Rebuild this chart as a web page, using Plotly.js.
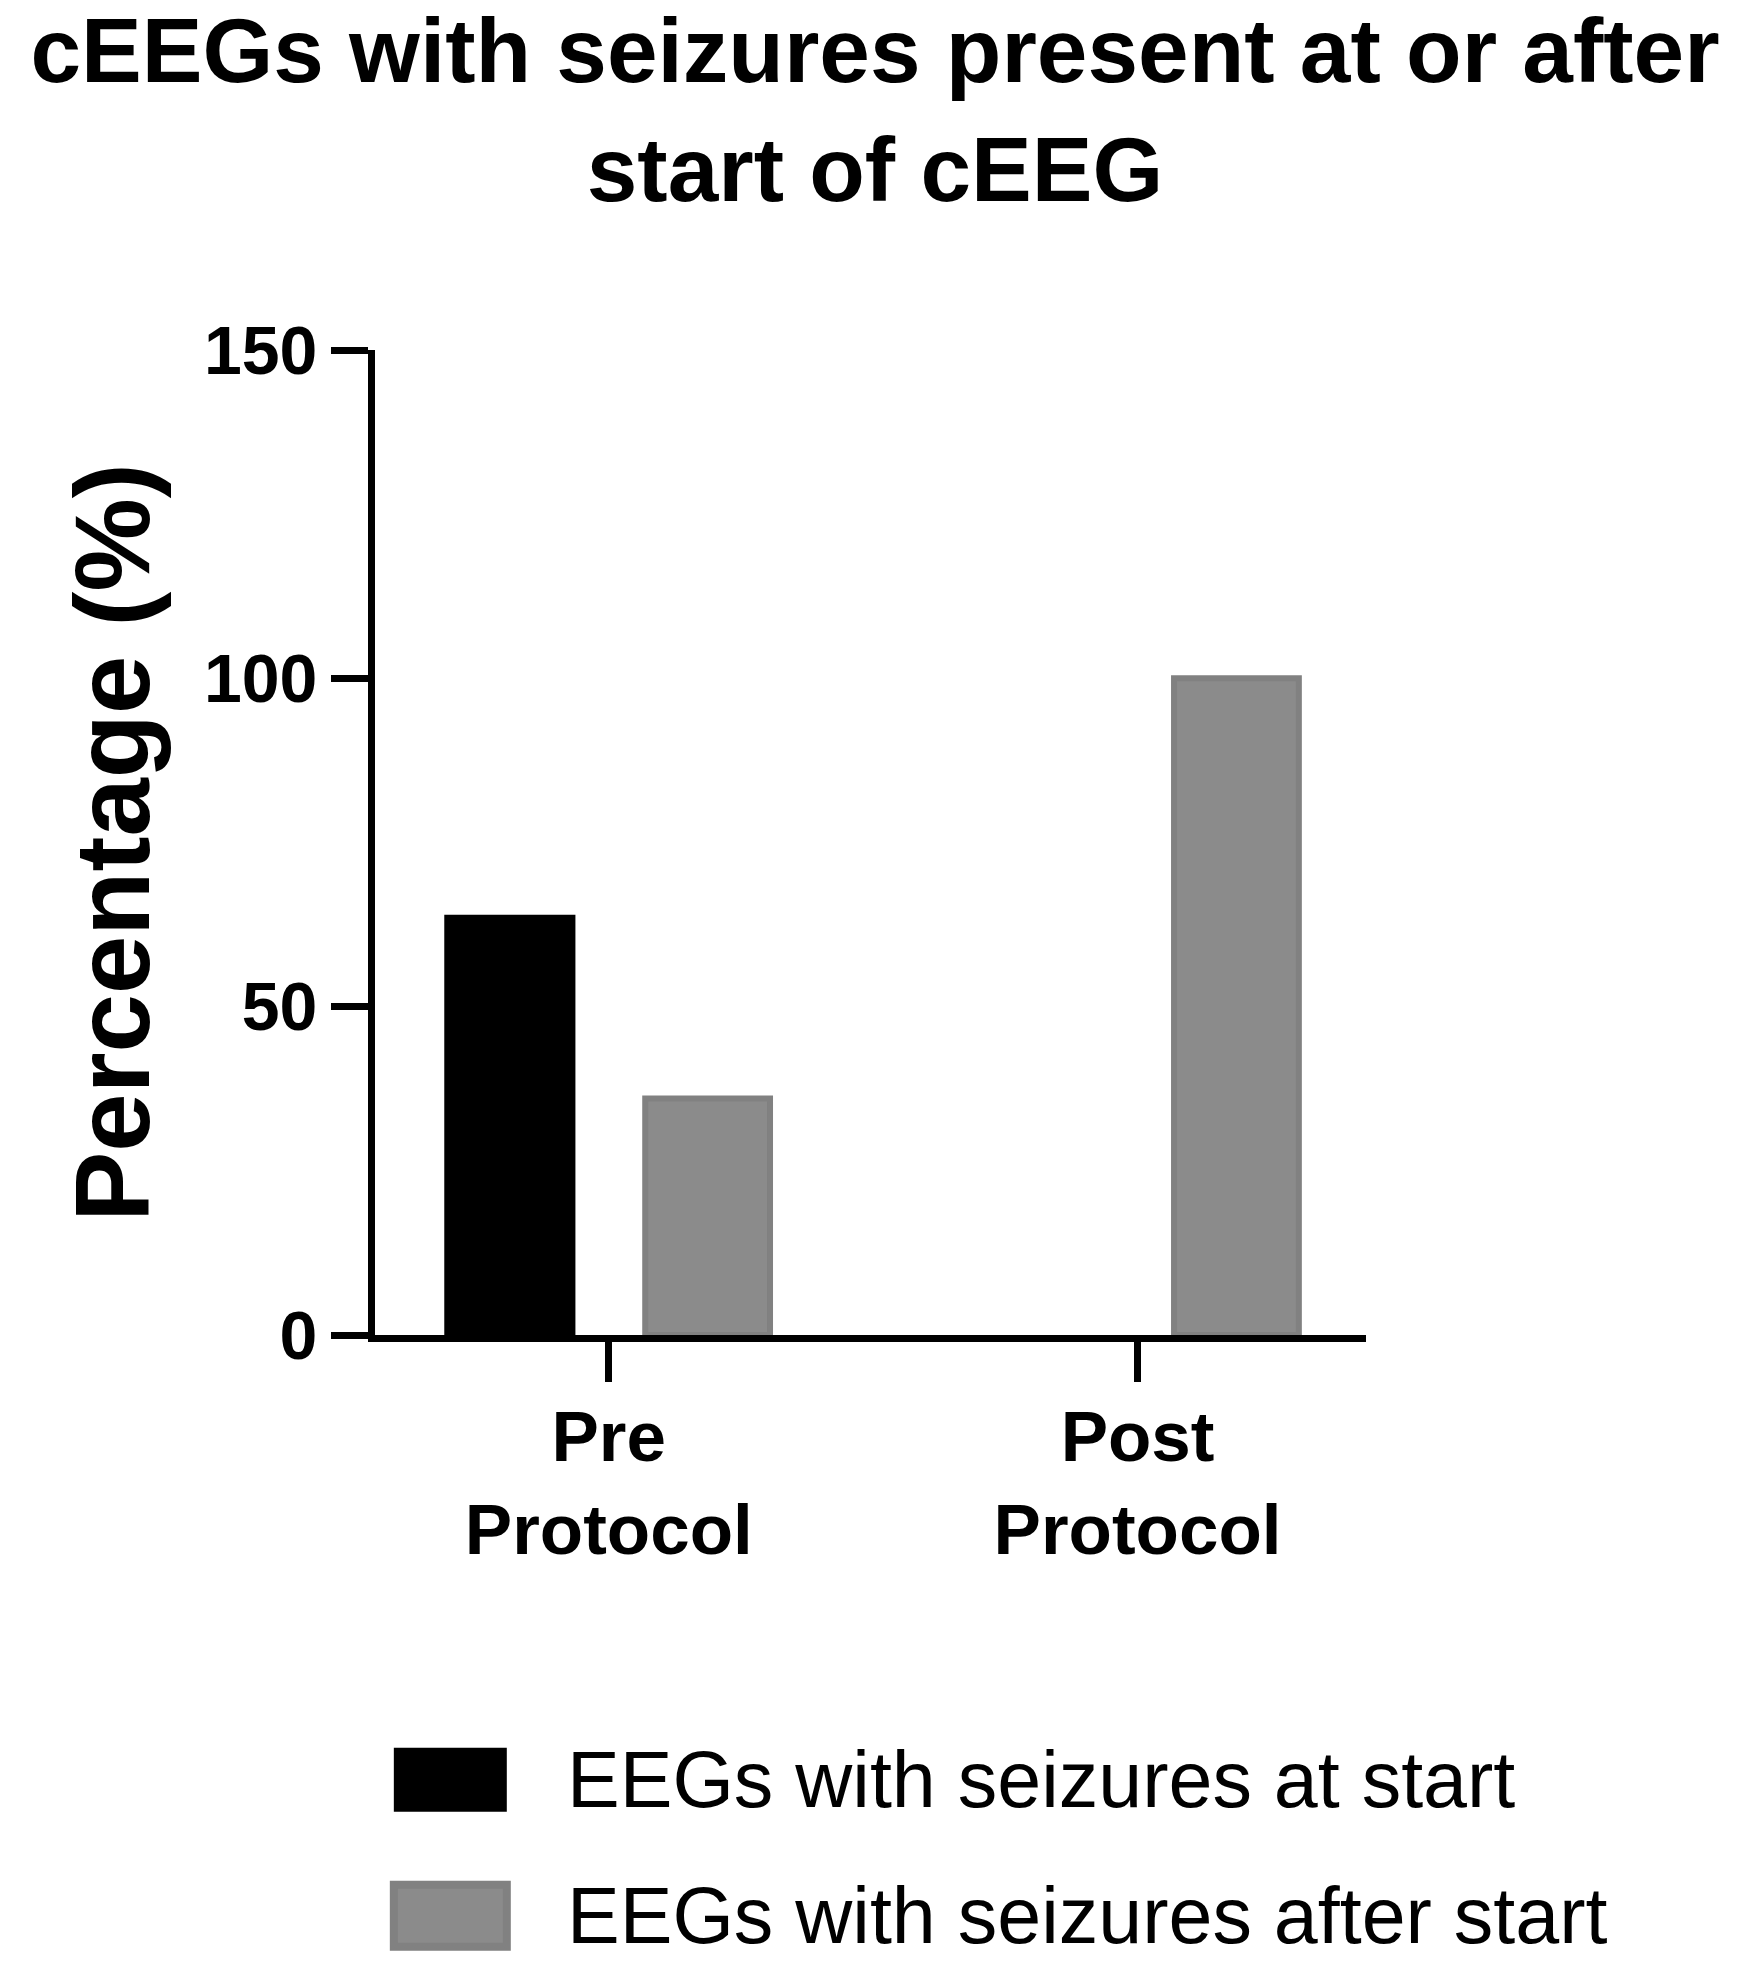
<!DOCTYPE html>
<html>
<head>
<meta charset="utf-8">
<script src="https://cdn.plot.ly/plotly-3.0.1.min.js"></script>
<style>
  html, body { margin: 0; padding: 0; background: #fff; }
  #chart { width: 1750px; height: 1961px; }
</style>
</head>
<body>
<div id="chart"></div>
<script>
// data
const categories = ['Pre<br>Protocol', 'Post<br>Protocol'];
const seriesNames = ['EEGs with seizures at start', 'EEGs with seizures after start'];
const atStartValues = [64, 0];
const afterStartValues = [36, 100];
const yTickValues = [0, 50, 100, 150];

// colours per series
const fillColors = ['#000000', '#8b8b8b'];
const edgeColors = ['#000000', '#818181'];
const edgeWidths = [0, 6];

const fontFamily = '"Liberation Sans", Arial, Helvetica, sans-serif';

const traces = [atStartValues, afterStartValues].map((vals, i) => ({
    type: 'bar',
    name: seriesNames[i],
    x: categories,
    y: vals,
    marker: { color: fillColors[i], line: { color: edgeColors[i], width: edgeWidths[i] } },
    hoverinfo: 'none'
}));
// black bars have no outline, so make them as wide as the outlined grey ones
traces[0].width = 0.248;

// big swatch legend, drawn as paper shapes + annotations
// (plotly's own legend symbol can't be scaled this large)
const legendRows = [
    { y0: -0.419, y1: -0.484 },
    { y0: -0.558, y1: -0.621 }
];
const shapes = [];
const annotations = [];
seriesNames.forEach((name, i) => {
    const row = legendRows[i];
    shapes.push({
        type: 'rect', xref: 'paper', yref: 'paper',
        x0: 0.019, x1: 0.133, y0: row.y0, y1: row.y1,
        fillcolor: fillColors[i],
        line: { color: edgeColors[i], width: i ? 8 : 0 }
    });
    annotations.push({
        xref: 'paper', yref: 'paper',
        x: 0.192, y: (row.y0 + row.y1) / 2,
        xanchor: 'left', yanchor: 'middle',
        text: name, showarrow: false,
        font: { family: fontFamily, size: 79, color: '#000' }
    });
});

const layout = {
    width: 1750,
    height: 1961,
    paper_bgcolor: '#fff',
    plot_bgcolor: '#fff',
    margin: { l: 375, r: 384, t: 350, b: 626 },
    font: { family: fontFamily, color: '#000' },
    showlegend: false,
    barmode: 'group',
    bargap: 0.252,
    bargroupgap: 0.369,
    title: {
        text: 'cEEGs with seizures present at or after<br>start of cEEG',
        font: { family: fontFamily, size: 91, weight: 'bold', color: '#000' },
        x: 0.5, xref: 'container', xanchor: 'center',
        y: 0.958, yref: 'container', yanchor: 'top',
        pad: { t: 0, b: 0 }
    },
    xaxis: {
        type: 'category',
        range: [-0.442, 1.432],
        showline: true, linecolor: '#000', linewidth: 7,
        ticks: 'outside', ticklen: 40, tickwidth: 7, tickcolor: '#000',
        ticklabelstandoff: -6,
        tickfont: { family: fontFamily, size: 71, weight: 'bold', color: '#000' },
        showgrid: false, zeroline: false,
        automargin: false
    },
    yaxis: {
        range: [0, 150],
        tickvals: yTickValues,
        showline: true, linecolor: '#000', linewidth: 7,
        ticks: 'outside', ticklen: 37, tickwidth: 7, tickcolor: '#000',
        tickfont: { family: fontFamily, size: 68, weight: 'bold', color: '#000' },
        showgrid: false, zeroline: false,
        automargin: false,
        title: {
            text: 'Percentage (%)',
            font: { family: fontFamily, size: 105, weight: 'bold', color: '#000' },
            standoff: 22
        }
    },
    shapes: shapes,
    annotations: annotations
};

Plotly.newPlot('chart', traces, layout, { staticPlot: true });
</script>
</body>
</html>
